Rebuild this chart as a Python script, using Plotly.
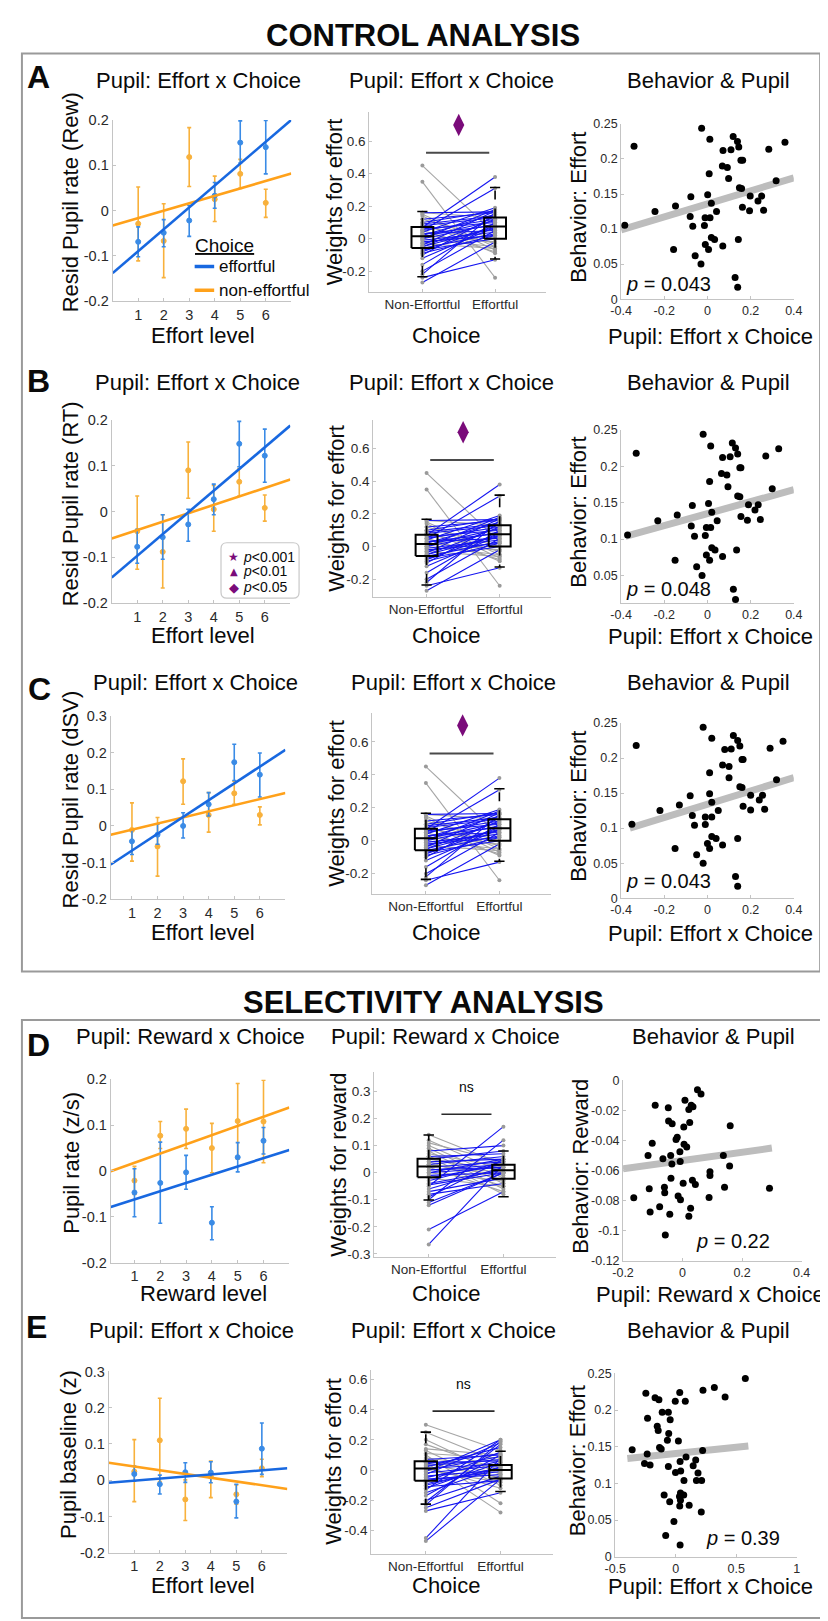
import plotly.graph_objects as go

W, H = 828, 1621
FONT = "Liberation Sans, Arial, sans-serif"
AX = "#c4c4c4"
TICKC = "#2a2a2a"
TXT = "#0a0a0a"
BLUE_L, BLUE_P = "#1868e0", "#3a8be6"
ORNG_L, ORNG_P = "#ffa11a", "#f8b13c"
PURPLE = "#7a0b7a"
SUBJ_UP, SUBJ_DOWN = "#1414f0", "#a5a5a5"

# ---------------- data ----------------
levels = [1, 2, 3, 4, 5, 6]
level_labels = ["1", "2", "3", "4", "5", "6"]
choice_ticks = [1, 2]
choice_labels = ["Non-Effortful", "Effortful"]

# Left column: means and error-bar ends, effortful (blue) / non-effortful (orange)
A_eff = [-0.069, -0.049, -0.022, 0.033, 0.150, 0.140]
A_eff_hi = [-0.036, -0.020, 0.011, 0.062, 0.198, 0.199]
A_eff_lo = [-0.102, -0.080, -0.057, 0.005, 0.105, 0.081]
A_non = [-0.029, -0.067, 0.118, 0.025, 0.081, 0.017]
A_non_hi = [0.052, 0.015, 0.183, 0.076, 0.113, 0.047]
A_non_lo = [-0.111, -0.148, 0.053, -0.024, 0.049, -0.015]
A_fit_eff = [-0.138, 0.0483]   # intercept, slope
A_fit_non = [-0.033, 0.0164]

B_eff = [-0.077, -0.056, -0.028, 0.027, 0.148, 0.122]
B_eff_hi = [-0.039, -0.007, 0.005, 0.060, 0.197, 0.180]
B_eff_lo = [-0.113, -0.104, -0.065, -0.007, 0.098, 0.064]
B_non = [-0.043, -0.088, 0.090, 0.005, 0.065, 0.008]
B_non_hi = [0.034, -0.007, 0.152, 0.057, 0.094, 0.036]
B_non_lo = [-0.126, -0.167, 0.029, -0.043, 0.034, -0.021]
B_fit_eff = [-0.144, 0.0474]
B_fit_non = [-0.059, 0.0184]

C_eff = [-0.042, -0.024, 0.000, 0.059, 0.174, 0.140]
C_eff_hi = [-0.011, 0.005, 0.036, 0.091, 0.223, 0.199]
C_eff_lo = [-0.078, -0.050, -0.033, 0.027, 0.124, 0.079]
C_non = [-0.011, -0.056, 0.122, 0.030, 0.089, 0.030]
C_non_hi = [0.063, 0.023, 0.183, 0.091, 0.122, 0.052]
C_non_lo = [-0.096, -0.137, 0.059, -0.017, 0.059, 0.003]
C_fit_eff = [-0.113, 0.0458]
C_fit_non = [-0.027, 0.0167]

D_eff = [-0.047, -0.026, -0.003, -0.113, 0.030, 0.066]
D_eff_hi = [0.005, 0.063, 0.034, -0.078, 0.062, 0.095]
D_eff_lo = [-0.100, -0.114, -0.040, -0.150, -0.002, 0.037]
D_non = [-0.021, 0.077, 0.092, 0.050, 0.109, 0.108]
D_non_hi = [0.010, 0.108, 0.135, 0.104, 0.191, 0.198]
D_non_lo = [-0.051, 0.049, 0.049, -0.004, 0.026, 0.018]
D_fit_eff = [-0.080, 0.0180]
D_fit_non = [-0.002, 0.0201]

E_eff = [0.017, -0.011, 0.022, 0.021, -0.059, 0.087]
E_eff_hi = [0.039, 0.014, 0.048, 0.051, -0.011, 0.158]
E_eff_lo = [-0.002, -0.038, -0.006, -0.007, -0.104, 0.016]
E_non = [0.024, 0.110, -0.053, 0.010, -0.039, 0.033]
E_non_hi = [0.112, 0.226, 0.001, 0.053, -0.013, 0.058]
E_non_lo = [-0.059, -0.004, -0.111, -0.048, -0.066, 0.010]
E_fit_eff = [-0.0072, 0.00575]
E_fit_non = [0.0483, -0.01034]

# Middle column: per-subject weights (non-effortful, effortful)
ABC_ne = [0.45, 0.35, 0.15, 0.14, 0.12, 0.10, 0.08, 0.05, 0.02, -0.03, 0.00, 0.16,
          -0.27, -0.24, -0.22, -0.20, -0.16, -0.10, -0.08, -0.06, -0.05, -0.04, -0.03, -0.02,
          0.00, 0.01, 0.02, 0.03, 0.04, 0.05, 0.06, 0.07, 0.08, 0.10, 0.12, 0.16,
          -0.07, -0.12, 0.03, -0.01, 0.05, -0.09, 0.09, 0.00, -0.05]
ABC_e = [0.03, -0.24, -0.05, -0.07, 0.00, -0.09, -0.03, -0.08, -0.02, -0.06, -0.05, 0.13,
         -0.02, -0.13, 0.16, 0.05, 0.10, 0.14, 0.08, 0.03, 0.12, 0.17, 0.06, 0.02,
         0.09, 0.11, 0.15, 0.05, 0.19, 0.31, 0.10, 0.38, 0.13, 0.17, 0.16, 0.165,
         0.00, 0.07, 0.08, 0.04, 0.12, 0.02, 0.14, 0.18, 0.07]
ABC_box_ne = [-0.235, -0.058, 0.015, 0.072, 0.167]   # whisker lo, q1, median, q3, whisker hi
ABC_box_e = [-0.125, 0.000, 0.075, 0.130, 0.315]
ABC_sig_x, ABC_sig_y = [1.5], [0.70]
ABC_bar_x, ABC_bar_y = [1.05, 1.92], [0.53, 0.53]

D_ne = [0.14, 0.10, 0.09, 0.08, 0.07, 0.06, 0.05, 0.04, 0.03, 0.02, 0.00, 0.12, 0.11, 0.06, -0.02, 0.03,
        -0.265, -0.21, -0.12, -0.10, -0.09, -0.08, -0.06, -0.05, -0.04, -0.03, -0.02, -0.01, 0.00,
        0.01, 0.02, 0.03, 0.04, 0.05, -0.07, 0.00, -0.045, 0.01, -0.11, 0.06, 0.08]
D_e = [0.03, -0.02, -0.04, -0.06, 0.02, -0.03, 0.01, -0.05, -0.01, -0.07, -0.03, 0.00, 0.04, -0.08, -0.05, 0.00,
       0.03, -0.07, 0.00, 0.12, 0.05, -0.04, 0.02, 0.17, 0.01, 0.04, 0.03, 0.00, 0.05,
       0.03, 0.04, 0.06, 0.05, 0.08, -0.02, 0.02, 0.00, 0.02, 0.00, 0.07, 0.10]
D_box_ne = [-0.101, -0.017, 0.023, 0.051, 0.139]
D_box_e = [-0.089, -0.022, 0.009, 0.029, 0.080]
D_bar_x, D_bar_y = [1.17, 1.84], [0.216, 0.216]

E_ne = [0.30, 0.25, 0.20, 0.17, 0.13, 0.10, 0.08, 0.05, 0.04, 0.02, 0.00, -0.27, 0.06, 0.11, 0.14,
        -0.47, -0.45, -0.23, -0.21, -0.20, -0.17, -0.13, -0.12, -0.10, -0.08, -0.07, -0.05, -0.04,
        -0.03, -0.02, 0.00, 0.01, 0.02, 0.03, 0.04, 0.05, -0.06, -0.09, -0.15, 0.07, -0.01, -0.11, -0.25]
E_e = [0.13, 0.05, -0.03, 0.00, -0.10, -0.22, 0.02, -0.28, -0.05, -0.12, -0.08, -0.15, -0.02, 0.08, 0.10,
       -0.06, 0.08, 0.19, 0.17, -0.04, 0.10, 0.20, 0.05, 0.02, 0.12, -0.01, 0.06, 0.00,
       0.18, 0.03, 0.09, 0.04, 0.15, 0.07, 0.11, 0.06, -0.03, 0.01, 0.02, 0.10, 0.20, -0.07, -0.06]
E_box_ne = [-0.225, -0.070, 0.011, 0.059, 0.251]
E_box_e = [-0.142, -0.055, 0.000, 0.033, 0.124]
E_bar_x, E_bar_y = [1.09, 1.92], [0.39, 0.39]

# Right column: pupil (x) vs behaviour (y) per subject
beh_effort = [0.1056, 0.218, 0.125, 0.133, 0.071, 0.146, 0.118, 0.104, 0.244, 0.062,
              0.050, 0.149, 0.116, 0.105, 0.116, 0.179, 0.228, 0.137, 0.078, 0.071,
              0.088, 0.085, 0.125, 0.212, 0.190, 0.188, 0.213, 0.172, 0.076, 0.232,
              0.225, 0.217, 0.198, 0.198, 0.159, 0.158, 0.131, 0.085, 0.031, 0.017,
              0.126, 0.147, 0.140, 0.147, 0.127, 0.214, 0.169, 0.224]
A_pupil = [-0.383, -0.34, -0.243, -0.148, -0.157, -0.077, -0.08, -0.068, -0.027, -0.057,
           -0.03, 0.001, -0.011, -0.014, 0.012, 0.008, 0.011, 0.018, -0.010, 0.005,
           0.018, 0.033, 0.042, 0.072, 0.069, 0.092, 0.109, 0.098, 0.071, 0.119,
           0.139, 0.145, 0.155, 0.163, 0.148, 0.158, 0.162, 0.143, 0.128, 0.140,
           0.195, 0.198, 0.234, 0.251, 0.26, 0.284, 0.318, 0.359]
B_pupil = [-0.37, -0.33, -0.23, -0.14, -0.15, -0.07, -0.075, -0.06, -0.02, -0.05,
           -0.025, 0.005, -0.005, -0.01, 0.015, 0.01, 0.015, 0.02, -0.005, 0.01,
           0.02, 0.035, 0.045, 0.07, 0.065, 0.09, 0.105, 0.095, 0.07, 0.115,
           0.13, 0.14, 0.15, 0.155, 0.14, 0.15, 0.155, 0.135, 0.12, 0.13,
           0.185, 0.19, 0.22, 0.235, 0.245, 0.27, 0.3, 0.33]
C_pupil = [-0.35, -0.33, -0.22, -0.13, -0.15, -0.08, -0.07, -0.06, -0.02, -0.05,
           -0.02, 0.01, -0.01, -0.01, 0.02, 0.01, 0.02, 0.02, 0.0, 0.01,
           0.02, 0.04, 0.05, 0.08, 0.07, 0.1, 0.11, 0.1, 0.07, 0.12,
           0.14, 0.15, 0.16, 0.165, 0.15, 0.16, 0.165, 0.14, 0.13, 0.14,
           0.2, 0.2, 0.24, 0.255, 0.265, 0.29, 0.32, 0.35]
A_sfit, A_sfit_x = [0.136, 0.0925], [-0.4, 0.4]
B_sfit, B_sfit_x = [0.135, 0.0820], [-0.38, 0.4]
C_sfit, C_sfit_x = [0.134, 0.0947], [-0.36, 0.4]

D_pupil = [0.050, 0.062, -0.092, -0.048, 0.008, 0.021, 0.035, 0.029, -0.047, -0.035,
           0.024, 0.004, 0.160, -0.018, -0.022, -0.102, 0.005, 0.014, -0.009, -0.116,
           -0.040, -0.066, 0.137, -0.008, -0.036, 0.158, 0.092, 0.092, -0.039, 0.033,
           0.043, 0.002, -0.061, 0.141, -0.112, 0.292, -0.060, -0.015, -0.007, 0.089,
           -0.164, -0.077, 0.027, -0.109, -0.043, 0.021, -0.058]
D_beh = [-0.0062, -0.0090, -0.0165, -0.0183, -0.0132, -0.0194, -0.0176, -0.0165, -0.0270, -0.0288,
         -0.0280, -0.0310, -0.0302, -0.0379, -0.0394, -0.0418, -0.0425, -0.0443, -0.0476, -0.0500,
         -0.0500, -0.0522, -0.0500, -0.0540, -0.0557, -0.0570, -0.0608, -0.0634, -0.0652, -0.0665,
         -0.0694, -0.0685, -0.0711, -0.0711, -0.0722, -0.0718, -0.0749, -0.0770, -0.0795, -0.0780,
         -0.0782, -0.0841, -0.0852, -0.0876, -0.0892, -0.0905, -0.1030]
D_sfit, D_sfit_x = [-0.0533, 0.0274], [-0.2, 0.3]

E_pupil = [0.575, 0.319, 0.225, 0.408, -0.247, 0.033, -0.171, -0.139, -0.004, 0.079,
           -0.112, -0.061, -0.046, -0.233, -0.153, -0.145, -0.058, -0.069, 0.022, -0.134,
           -0.120, -0.360, 0.222, -0.236, 0.085, 0.165, 0.036, -0.258, -0.212, -0.061,
           0.144, 0.184, -0.002, 0.041, 0.068, 0.171, 0.214, -0.096, 0.039, 0.031,
           0.066, 0.039, -0.050, 0.111, 0.033, 0.211, -0.015, -0.083, 0.036]
E_beh = [0.243, 0.231, 0.227, 0.218, 0.223, 0.224, 0.217, 0.214, 0.212, 0.212,
         0.197, 0.197, 0.187, 0.189, 0.178, 0.172, 0.168, 0.159, 0.158, 0.149,
         0.147, 0.146, 0.145, 0.140, 0.136, 0.132, 0.130, 0.127, 0.125, 0.123,
         0.124, 0.114, 0.115, 0.117, 0.104, 0.104, 0.104, 0.084, 0.087, 0.082,
         0.084, 0.077, 0.075, 0.070, 0.069, 0.061, 0.048, 0.029, 0.016]
E_sfit, E_sfit_x = [0.1408, 0.0170], [-0.4, 0.6]

# tick label sets
yt_l2 = [-0.2, -0.1, 0, 0.1, 0.2]
yl_l2 = ["-0.2", "-0.1", "0", "0.1", "0.2"]
yt_l3 = [-0.2, -0.1, 0, 0.1, 0.2, 0.3]
yl_l3 = ["-0.2", "-0.1", "0", "0.1", "0.2", "0.3"]
yt_mABC = [-0.2, 0, 0.2, 0.4, 0.6]
yl_mABC = ["-0.2", "0", "0.2", "0.4", "0.6"]
yt_mD = [-0.3, -0.2, -0.1, 0, 0.1, 0.2, 0.3]
yl_mD = ["-0.3", "-0.2", "-0.1", "0", "0.1", "0.2", "0.3"]
yt_mE = [-0.4, -0.2, 0, 0.2, 0.4, 0.6]
yl_mE = ["-0.4", "-0.2", "0", "0.2", "0.4", "0.6"]
yt_rE = [0, 0.05, 0.1, 0.15, 0.2, 0.25]
yl_rE = ["0", "0.05", "0.1", "0.15", "0.2", "0.25"]
xt_r4 = [-0.4, -0.2, 0, 0.2, 0.4]
xl_r4 = ["-0.4", "-0.2", "0", "0.2", "0.4"]
yt_rD = [-0.12, -0.1, -0.08, -0.06, -0.04, -0.02, 0]
yl_rD = ["-0.12", "-0.1", "-0.08", "-0.06", "-0.04", "-0.02", "0"]
xt_rD = [-0.2, 0, 0.2, 0.4]
xl_rD = ["-0.2", "0", "0.2", "0.4"]
xt_rE5 = [-0.5, 0, 0.5, 1]
xl_rE5 = ["-0.5", "0", "0.5", "1"]

# ---------------- helpers ----------------
fig = go.Figure()
layout = dict(width=W, height=H, margin=dict(l=0, r=0, t=0, b=0),
              paper_bgcolor="white", plot_bgcolor="white", showlegend=False,
              font=dict(family=FONT, color=TXT))
annotations = []
shapes = []


def names(n):
    return ("x" if n == 1 else f"x{n}", "y" if n == 1 else f"y{n}")


def add_axes(n, rect, xr, yr, xt, xtt, yt, ytt, fs):
    x0, x1, y0, y1 = rect
    xa, ya = names(n)
    common = dict(showline=True, linecolor=AX, linewidth=1, ticks="inside", ticklen=3,
                  tickcolor=AX, showgrid=False, zeroline=False, fixedrange=True,
                  tickfont=dict(family=FONT, size=fs, color=TICKC))
    sfx = "" if n == 1 else str(n)
    layout["xaxis" + sfx] = dict(domain=[x0 / W, x1 / W], range=xr, anchor=ya,
                                 tickvals=xt, ticktext=xtt, **common)
    layout["yaxis" + sfx] = dict(domain=[1 - y1 / H, 1 - y0 / H], range=yr, anchor=xa,
                                 tickvals=yt, ticktext=ytt, **common)


def T(x, y, s, size=22, angle=0, xanchor="center", color=TXT, family=FONT):
    annotations.append(dict(x=x / W, y=1 - y / H, xref="paper", yref="paper", text=s,
                            showarrow=False, font=dict(family=family, size=size, color=color),
                            textangle=angle, xanchor=xanchor, yanchor="middle"))


def tr(n, **kw):
    xa, ya = names(n)
    fig.add_trace(go.Scatter(xaxis=xa, yaxis=ya, showlegend=False, hoverinfo="skip", **kw))


def left_panel(n, xr, eff, eff_hi, eff_lo, non, non_hi, non_lo, fit_eff, fit_non):
    for m, hi, lo, col in [(non, non_hi, non_lo, ORNG_P), (eff, eff_hi, eff_lo, BLUE_P)]:
        tr(n, x=levels, y=m, mode="markers",
           marker=dict(size=5, color=col, line=dict(color=col, width=1)),
           error_y=dict(type="data", symmetric=False,
                        array=[h - v for h, v in zip(hi, m)],
                        arrayminus=[v - l for v, l in zip(m, lo)],
                        color=col, thickness=1.6, width=2))
    for fit, col in [(fit_non, ORNG_L), (fit_eff, BLUE_L)]:
        xs = list(xr)
        tr(n, x=xs, y=[fit[0] + fit[1] * x for x in xs], mode="lines",
           line=dict(color=col, width=2.6))


def mid_panel(n, ne, e, box_ne, box_e):
    ux, uy, dx, dy = [], [], [], []
    for a, b in zip(ne, e):
        if b > a:
            ux += [1, 2, None]; uy += [a, b, None]
        else:
            dx += [1, 2, None]; dy += [a, b, None]
    tr(n, x=dx, y=dy, mode="lines", line=dict(color=SUBJ_DOWN, width=1.1))
    tr(n, x=ux, y=uy, mode="lines", line=dict(color=SUBJ_UP, width=1.1))
    tr(n, x=[1] * len(ne) + [2] * len(e), y=list(ne) + list(e), mode="markers",
       marker=dict(size=4, color="#9a9a9a"))
    hw, cw = 0.15, 0.07
    for c, st in [(1, box_ne), (2, box_e)]:
        lo, q1, med, q3, hi = st
        tr(n, x=[c, c, None, c, c], y=[q3, hi, None, q1, lo], mode="lines",
           line=dict(color="black", width=1.6, dash="dash"))
        tr(n, x=[c - cw, c + cw, None, c - cw, c + cw], y=[hi, hi, None, lo, lo], mode="lines",
           line=dict(color="black", width=1.6))
        tr(n, x=[c - hw, c + hw, c + hw, c - hw, c - hw, None, c - hw, c + hw],
           y=[q1, q1, q3, q3, q1, None, med, med], mode="lines",
           line=dict(color="black", width=2))


def right_panel(n, px, beh, fit, fit_x):
    tr(n, x=fit_x, y=[fit[0] + fit[1] * x for x in fit_x], mode="lines",
       line=dict(color="#bdbdbd", width=7))
    tr(n, x=px, y=beh, mode="markers", marker=dict(size=7, color="black"))


def ptext(n, x, y, val, xanchor):
    xa, ya = names(n)
    annotations.append(dict(x=x, y=y, xref=xa, yref=ya, text="<i>p</i> = " + val,
                            showarrow=False, xanchor=xanchor, yanchor="middle",
                            font=dict(family=FONT, size=20, color=TXT)))


# ---------------- panels ----------------
rects = {
    (0, 0): (96, 279, 105, 288), (0, 1): (359, 540, 97, 279), (0, 2): (617, 794, 109, 286),
    (1, 0): (95, 278, 408, 593), (1, 1): (363, 545, 408, 587), (1, 2): (617, 794, 418, 593),
    (2, 0): (94, 273, 707, 892), (2, 1): (362, 545, 704, 887), (2, 2): (617, 794, 714, 891),
    (3, 0): (94, 277, 1074, 1259), (3, 1): (364, 550, 1067, 1253), (3, 2): (619, 802, 1075, 1257),
    (4, 0): (92, 275, 1369, 1552), (4, 1): (361, 547, 1367, 1553), (4, 2): (611, 797, 1371, 1556),
}
left_xr = [[0, 7], [0, 7], [0.17, 7], [0.08, 7], [0.0, 7]]
left_data = [
    (A_eff, A_eff_hi, A_eff_lo, A_non, A_non_hi, A_non_lo, A_fit_eff, A_fit_non, [-0.2, 0.2], yt_l2, yl_l2),
    (B_eff, B_eff_hi, B_eff_lo, B_non, B_non_hi, B_non_lo, B_fit_eff, B_fit_non, [-0.2, 0.2], yt_l2, yl_l2),
    (C_eff, C_eff_hi, C_eff_lo, C_non, C_non_hi, C_non_lo, C_fit_eff, C_fit_non, [-0.2, 0.3], yt_l3, yl_l3),
    (D_eff, D_eff_hi, D_eff_lo, D_non, D_non_hi, D_non_lo, D_fit_eff, D_fit_non, [-0.2, 0.2], yt_l2, yl_l2),
    (E_eff, E_eff_hi, E_eff_lo, E_non, E_non_hi, E_non_lo, E_fit_eff, E_fit_non, [-0.2, 0.3], yt_l3, yl_l3),
]
for r in range(5):
    n = r * 3 + 1
    d = left_data[r]
    add_axes(n, rects[(r, 0)], left_xr[r], d[8], levels, level_labels, d[9], d[10], 14.5)
    left_panel(n, left_xr[r], *d[:8])

mid_xr = [0.27, 2.7]
mid_data = [
    (ABC_ne, ABC_e, ABC_box_ne, ABC_box_e, [-0.33, 0.78], yt_mABC, yl_mABC),
    (ABC_ne, ABC_e, ABC_box_ne, ABC_box_e, [-0.31, 0.775], yt_mABC, yl_mABC),
    (ABC_ne, ABC_e, ABC_box_ne, ABC_box_e, [-0.325, 0.775], yt_mABC, yl_mABC),
    (D_ne, D_e, D_box_ne, D_box_e, [-0.31, 0.37], yt_mD, yl_mD),
    (E_ne, E_e, E_box_ne, E_box_e, [-0.553, 0.665], yt_mE, yl_mE),
]
for r in range(5):
    n = r * 3 + 2
    d = mid_data[r]
    add_axes(n, rects[(r, 1)], mid_xr, d[4], choice_ticks, choice_labels, d[5], d[6], 13.5)
    mid_panel(n, *d[:4])
    if r < 3:
        tr(n, x=ABC_bar_x, y=ABC_bar_y, mode="lines", line=dict(color="#4a4a4a", width=2))
        tr(n, x=ABC_sig_x, y=ABC_sig_y, mode="markers",
           marker=dict(symbol="diamond-tall", size=16, color=PURPLE))
    else:
        bx, by, nsy = (D_bar_x, D_bar_y, 0.316) if r == 3 else (E_bar_x, E_bar_y, 0.57)
        tr(n, x=bx, y=by, mode="lines", line=dict(color="#2a2a2a", width=1.6))
        xa, ya = names(n)
        annotations.append(dict(x=1.5, y=nsy, xref=xa, yref=ya, text="ns", showarrow=False,
                                font=dict(family=FONT, size=14, color=TXT)))

right_data = [
    (A_pupil, beh_effort, A_sfit, A_sfit_x, [-0.4, 0.4], [0, 0.25], xt_r4, xl_r4, yt_rE, yl_rE),
    (B_pupil, beh_effort, B_sfit, B_sfit_x, [-0.4, 0.4], [0.012, 0.25], xt_r4, xl_r4, yt_rE[1:], yl_rE[1:]),
    (C_pupil, beh_effort, C_sfit, C_sfit_x, [-0.4, 0.4], [0, 0.25], xt_r4, xl_r4, yt_rE, yl_rE),
    (D_pupil, D_beh, D_sfit, D_sfit_x, [-0.2, 0.4], [-0.12, 0], xt_rD, xl_rD, yt_rD, yl_rD),
    (E_pupil, E_beh, E_sfit, E_sfit_x, [-0.5, 1.0], [0, 0.25], xt_rE5, xl_rE5, yt_rE, yl_rE),
]
for r in range(5):
    n = r * 3 + 3
    d = right_data[r]
    add_axes(n, rects[(r, 2)], d[4], d[5], d[6], d[7], d[8], d[9], 12.5)
    right_panel(n, *d[:4])

ptext(3, -0.385, 0.021, "0.043", "left")
ptext(6, -0.385, 0.032, "0.048", "left")
ptext(9, -0.385, 0.024, "0.043", "left")
ptext(12, 0.039, -0.107, "0.22", "left")
ptext(15, 0.235, 0.026, "0.39", "left")

# ---------------- text ----------------
T(414, 20, "<b>CONTROL ANALYSIS</b>", size=31)
T(415, 996, "<b>SELECTIVITY ANALYSIS</b>", size=31)
for L, (x, y) in zip("ABCDE", [(20, 62), (20, 369), (21, 680), (20, 1039), (18, 1324)]):
    T(x, y, "<b>" + L + "</b>", size=32)

title_y = [65, 370, 673, 1031, 1328]
left_titles = ["Pupil: Effort x Choice"] * 3 + ["Pupil: Reward x Choice", "Pupil: Effort x Choice"]
mid_titles = left_titles
left_tx = [184, 183, 181, 176, 177]
mid_tx = [443, 443, 445, 437, 445]
right_tx = [707, 707, 707, 712, 707]
for r in range(5):
    T(left_tx[r], title_y[r], left_titles[r])
    T(mid_tx[r], title_y[r], mid_titles[r])
    T(right_tx[r], title_y[r], "Behavior & Pupil")

xl_y = [323, 626, 926, 1290, 1585]
left_xl = ["Effort level", "Effort level", "Effort level", "Reward level", "Effort level"]
right_xl = ["Pupil: Effort x Choice"] * 3 + ["Pupil: Reward x Choice", "Pupil: Effort x Choice"]
for r in range(5):
    T(189, xl_y[r], left_xl[r])
    T(438, xl_y[r], "Choice")
    T(709, xl_y[r] + 1, right_xl[r])

left_yl = ["Resid Pupil rate (Rew)", "Resid Pupil rate (RT)", "Resid Pupil rate (dSV)",
           "Pupil rate (z/s)", "Pupil baseline (z)"]
mid_yl = ["Weights for effort"] * 3 + ["Weights for reward", "Weights for effort"]
right_yl = ["Behavior: Effort"] * 3 + ["Behavior: Reward", "Behavior: Effort"]
left_ylx = [53, 53, 53, 53, 50]
mid_ylx = [323, 325, 325, 327, 322]
right_ylx = [573, 573, 573, 575, 572]
for r in range(5):
    for c, labs, xs, dy in [(0, left_yl, left_ylx, -8), (1, mid_yl, mid_ylx, 0), (2, right_yl, right_ylx, -4)]:
        x0, x1, y0, y1 = rects[(r, c)]
        T(xs[r], (y0 + y1) / 2 + dy, labs[r], angle=-90)

# legend in A
T(211, 232, "<u>Choice</u>", size=19)
shapes.append(dict(type="line", xref="paper", yref="paper", x0=180 / W, x1=200 / W,
                   y0=1 - 253 / H, y1=1 - 253 / H, line=dict(color=BLUE_L, width=3.5)))
shapes.append(dict(type="line", xref="paper", yref="paper", x0=180 / W, x1=200 / W,
                   y0=1 - 277 / H, y1=1 - 277 / H, line=dict(color=ORNG_L, width=3.5)))
T(203, 253, "effortful", size=17, xanchor="left")
T(203, 277, "non-effortful", size=17, xanchor="left")

# significance legend in B (rounded box)
bx0, bx1, by0, by1, rr = 207, 287, 532, 588, 6


def P(x, y):
    return f"{x / W:.5f},{1 - y / H:.5f}"


path = (f"M {P(bx0 + rr, by0)} L {P(bx1 - rr, by0)} Q {P(bx1, by0)} {P(bx1, by0 + rr)} "
        f"L {P(bx1, by1 - rr)} Q {P(bx1, by1)} {P(bx1 - rr, by1)} L {P(bx0 + rr, by1)} "
        f"Q {P(bx0, by1)} {P(bx0, by1 - rr)} L {P(bx0, by0 + rr)} Q {P(bx0, by0)} {P(bx0 + rr, by0)} Z")
shapes.append(dict(type="path", xref="paper", yref="paper", path=path,
                   line=dict(color="#c8c8c8", width=1.2), fillcolor="white"))
for sym, lab, yy, fs in [("★", "<i>p</i><0.001", 546, 12), ("▲", "<i>p</i><0.01", 561, 10),
                         ("◆", "<i>p</i><0.05", 577, 13)]:
    T(220, yy, sym, size=fs, color=PURPLE, family="DejaVu Sans")
    T(228, yy, lab, size=14, xanchor="left")

# section boxes
shapes.append(dict(type="rect", xref="paper", yref="paper", x0=3 / W, x1=821 / W,
                   y0=1 - 965 / H, y1=1 - 38 / H, line=dict(color="#9a9a9a", width=2)))
shapes.append(dict(type="rect", xref="paper", yref="paper", x0=3 / W, x1=825 / W,
                   y0=1 - 1618 / H, y1=1 - 1014 / H, line=dict(color="#9a9a9a", width=2)))

layout["annotations"] = annotations
layout["shapes"] = shapes
fig.update_layout(**layout)
fig.write_html("out.html")
